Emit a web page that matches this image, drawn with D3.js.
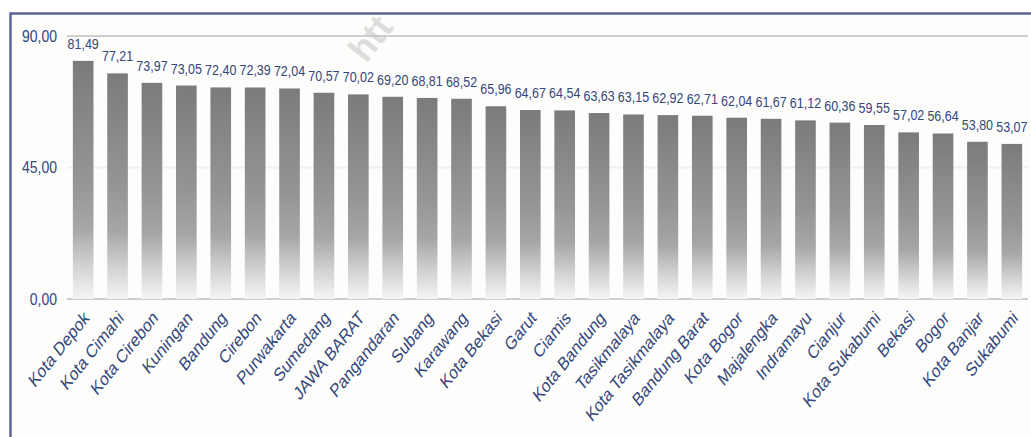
<!DOCTYPE html>
<html lang="id">
<head>
<meta charset="UTF-8">
<script src="https://d3js.org/d3.v7.min.js"></script>
<style>
  body { margin: 0; background: #fff; font-family: "Liberation Sans", Arial, sans-serif; }
  svg { display: block; }
</style>
</head>
<body>
<svg id="chart"></svg>
<script>
  const categories = ['Kota Depok', 'Kota Cimahi', 'Kota Cirebon', 'Kuningan', 'Bandung', 'Cirebon',
    'Purwakarta', 'Sumedang', 'JAWA BARAT', 'Pangandaran', 'Subang', 'Karawang', 'Kota Bekasi',
    'Garut', 'Ciamis', 'Kota Bandung', 'Tasikmalaya', 'Kota Tasikmalaya', 'Bandung Barat',
    'Kota Bogor', 'Majalengka', 'Indramayu', 'Cianjur', 'Kota Sukabumi', 'Bekasi', 'Bogor',
    'Kota Banjar', 'Sukabumi'];
  const values = [81.49, 77.21, 73.97, 73.05, 72.40, 72.39, 72.04, 70.57, 70.02, 69.20, 68.81,
    68.52, 65.96, 64.67, 64.54, 63.63, 63.15, 62.92, 62.71, 62.04, 61.67, 61.12, 60.36, 59.55,
    57.02, 56.64, 53.80, 53.07];
  const yTicks = [0, 45, 90];

  const W = 1031, H = 437;
  const textColor = '#34467a';
  const fmt = v => d3.format('.2f')(v).replace('.', ',');

  const svg = d3.select('#chart').attr('width', W).attr('height', H);

  // gradient for the bars: grey on top fading to white at the base
  const grad = svg.append('defs').append('linearGradient')
    .attr('id', 'barFade').attr('x1', 0).attr('y1', 0).attr('x2', 0).attr('y2', 1);
  grad.append('stop').attr('offset', '0%').attr('stop-color', '#7b7b7b');
  grad.append('stop').attr('offset', '50%').attr('stop-color', '#959595');
  grad.append('stop').attr('offset', '70%').attr('stop-color', '#a6a6a6');
  grad.append('stop').attr('offset', '87%').attr('stop-color', '#d4d4d4');
  grad.append('stop').attr('offset', '100%').attr('stop-color', '#f5f5f5');

  // framed panel
  svg.append('rect')
    .attr('x', 10.5).attr('y', 13.5)
    .attr('width', W + 20).attr('height', H + 20)
    .attr('fill', '#fdfdfc')
    .attr('stroke', '#5b6595').attr('stroke-width', 2.5);

  const x = d3.scaleBand().domain(categories).range([67, 1028])
    .paddingInner(0.4).paddingOuter(0.17);
  const y = d3.scaleLinear().domain([0, 90]).range([299, 36]);

  // grid lines
  svg.append('g').selectAll('line')
    .data(yTicks).join('line')
    .attr('x1', 67).attr('x2', 1028)
    .attr('y1', d => y(d)).attr('y2', d => y(d))
    .attr('stroke', d => d === 45 ? '#f0f0f0' : '#cfcfcf')
    .attr('stroke-width', 2);

  // y tick labels
  svg.append('g').selectAll('text')
    .data(yTicks).join('text')
    .attr('transform', d => `translate(57,${y(d)}) scale(1,1.2)`)
    .attr('text-anchor', 'end')
    .attr('dy', '0.35em')
    .attr('fill', textColor)
    .style('font-size', '14px')
    .text(fmt);

  // bars
  svg.append('g').selectAll('rect')
    .data(values).join('rect')
    .attr('x', (d, i) => x(categories[i]))
    .attr('y', d => y(d))
    .attr('width', x.bandwidth())
    .attr('height', d => y(0) - y(d))
    .attr('fill', 'url(#barFade)');

  // value labels
  svg.append('g').selectAll('text')
    .data(values).join('text')
    .attr('transform', (d, i) => `translate(${x(categories[i]) + x.bandwidth() / 2},${y(d) - 12}) scale(1,1.2)`)
    .attr('text-anchor', 'middle')
    .attr('fill', textColor)
    .style('font-size', '12.5px')
    .text(fmt);

  // category labels
  svg.append('g').selectAll('text')
    .data(categories).join('text')
    .attr('transform', d => `translate(${x(d) + x.bandwidth() / 2 + 7},${319}) scale(1,1.25) rotate(-45)`)
    .attr('text-anchor', 'end')
    .attr('fill', textColor)
    .style('font-size', '15px')
    .text(d => d);

  // faint watermark (only the visible part of it)
  svg.append('text')
    .attr('transform', 'translate(366,64) rotate(-52)')
    .attr('fill', '#c4c4c4')
    .attr('opacity', 0.55)
    .style('font-size', '36px')
    .style('font-weight', 'bold')
    .text('htt');
</script>
</body>
</html>
